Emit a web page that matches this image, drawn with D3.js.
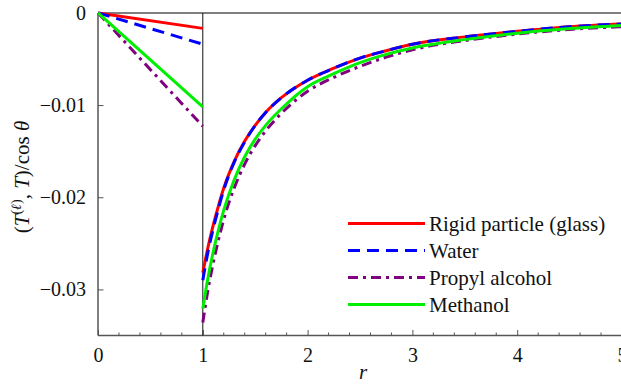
<!DOCTYPE html>
<html>
<head>
<meta charset="utf-8">
<script src="https://cdn.jsdelivr.net/npm/d3@7"></script>
<style>
  html, body { margin: 0; padding: 0; background: #fff; }
  svg { display: block; }
  svg text { font-family: "Liberation Serif", "Times New Roman", "DejaVu Serif", serif !important; fill: #111; }
</style>
</head>
<body>
<svg id="chart" width="621" height="385"></svg>
<script>
// Inner region (0 <= r <= 1): fluid / particle interior
const rInner = [0, 1];
const glassInner = [0, -0.00168];
const waterInner = [0, -0.0034];
const propylInner = [0, -0.0123];
const methanolInner = [0, -0.0102];

// Outer region (1 <= r <= 5)
const rOuter = [1, 1.05, 1.1, 1.15, 1.2, 1.3, 1.4, 1.5, 1.6, 1.75, 2, 2.25, 2.5, 2.75, 3, 3.5, 4, 4.5, 5];
const glassOuter = [-0.0282, -0.0254, -0.0230, -0.0209, -0.0190, -0.0161, -0.0139, -0.0122, -0.0108, -0.0092, -0.0073, -0.0060, -0.0049, -0.0041, -0.0034, -0.0026, -0.0020, -0.0015, -0.0012];
const waterOuter = [-0.0290, -0.0259, -0.0234, -0.0212, -0.0192, -0.0162, -0.0140, -0.0122, -0.0108, -0.0092, -0.0073, -0.0060, -0.0049, -0.0041, -0.0034, -0.0026, -0.0020, -0.0015, -0.0012];
const propylOuter = [-0.0336, -0.0300, -0.0271, -0.0246, -0.0224, -0.0190, -0.0164, -0.0144, -0.0128, -0.0109, -0.0085, -0.0070, -0.0058, -0.0048, -0.0040, -0.0030, -0.0023, -0.0018, -0.0015];
const methanolOuter = [-0.0321, -0.0287, -0.0259, -0.0235, -0.0214, -0.0181, -0.0156, -0.0137, -0.0122, -0.0104, -0.0080, -0.0066, -0.0054, -0.0045, -0.0038, -0.0029, -0.0022, -0.0017, -0.00135];

const seriesNames = ["Rigid particle (glass)", "Water", "Propyl alcohol", "Methanol"];
const xTicks = [0, 1, 2, 3, 4, 5];
const yTicks = [0, -0.01, -0.02, -0.03];

const series = [
  { name: seriesNames[0], inner: glassInner, outer: glassOuter, color: "#ff0000", dash: null },
  { name: seriesNames[1], inner: waterInner, outer: waterOuter, color: "#0000ff", dash: "12,7" },
  { name: seriesNames[2], inner: propylInner, outer: propylOuter, color: "#800080", dash: "10,5,3,5" },
  { name: seriesNames[3], inner: methanolInner, outer: methanolOuter, color: "#00ee00", dash: null }
];

const serif = "'Liberation Serif', 'Times New Roman', serif";
const svg = d3.select("#chart");
const x = d3.scaleLinear().domain([0, 5]).range([98, 622]);
const y = d3.scaleLinear().domain([-0.035, 0]).range([335.5, 12.9]);

const axisColor = "#555";

// x axis with inward ticks (majors at integers, minors every 0.2)
const xMinor = d3.range(0, 5.001, 0.2).filter(v => Math.abs(v - Math.round(v)) > 1e-6);
const gx = svg.append("g").attr("transform", `translate(0,${y(-0.035)})`);
gx.append("line").attr("x1", x(0)).attr("x2", 621).attr("stroke", axisColor).attr("stroke-width", 1.5);
gx.selectAll("line.minor").data(xMinor).join("line").attr("class", "minor")
  .attr("x1", d => x(d)).attr("x2", d => x(d)).attr("y1", 0).attr("y2", -3)
  .attr("stroke", axisColor).attr("stroke-width", 1);
const xAxis = d3.axisBottom(x).tickValues(xTicks).tickSizeInner(-5.5).tickSizeOuter(0).tickPadding(12)
  .tickFormat(d3.format("d"));
gx.append("g").call(xAxis).call(g => {
  g.attr("font-family", serif).attr("font-size", 20);
  g.select(".domain").remove();
  g.selectAll(".tick line").attr("stroke", axisColor).attr("stroke-width", 1);
  g.selectAll(".tick text").style("font-family", serif).style("font-size", "20px").attr("fill", "#111");
});

// y axis with inward ticks
const gy = svg.append("g").attr("transform", `translate(${x(0)},0)`);
gy.append("line").attr("y1", y(0)).attr("y2", y(-0.035)).attr("stroke", axisColor).attr("stroke-width", 1.5);
const yFmt = d => d === 0 ? "0" : "\u2212" + d3.format(".2f")(-d);
const yAxis = d3.axisLeft(y).tickValues(yTicks).tickSizeInner(-5.5).tickSizeOuter(0).tickPadding(12).tickFormat(yFmt);
gy.append("g").call(yAxis).call(g => {
  g.attr("font-family", serif).attr("font-size", 20);
  g.select(".domain").remove();
  g.selectAll(".tick line").attr("stroke", axisColor).attr("stroke-width", 1);
  g.selectAll(".tick text").style("font-family", serif).style("font-size", "20px").attr("fill", "#111");
});

// zero line along the top and interface line at r = 1
svg.append("line").attr("x1", x(0)).attr("x2", 621).attr("y1", y(0)).attr("y2", y(0))
  .attr("stroke", axisColor).attr("stroke-width", 1.5);
svg.append("line").attr("x1", x(1)).attr("x2", x(1)).attr("y1", y(0)).attr("y2", y(-0.035))
  .attr("stroke", "#111").attr("stroke-width", 1);

// curves
const line = d3.line().x(d => x(d[0])).y(d => y(d[1])).curve(d3.curveMonotoneX);
const plot = svg.append("g");
series.forEach(s => {
  const innerPts = rInner.map((r, i) => [r, s.inner[i]]);
  const outerPts = rOuter.map((r, i) => [r, s.outer[i]]);
  [innerPts, outerPts].forEach(pts => {
    plot.append("path").datum(pts).attr("d", line)
      .attr("fill", "none").attr("stroke", s.color).attr("stroke-width", 3)
      .attr("stroke-dasharray", s.dash);
  });
});

// legend
const lg = svg.append("g");
series.forEach((s, i) => {
  const yy = 223.5 + i * 27;
  lg.append("line").attr("x1", 348).attr("x2", 425).attr("y1", yy).attr("y2", yy)
    .attr("stroke", s.color).attr("stroke-width", 3).attr("stroke-dasharray", s.dash);
  lg.append("text").attr("x", 429).attr("y", yy + 7).style("font-family", serif).style("font-size", "21px").text(s.name);
});

// axis titles
svg.append("text").attr("x", 363).attr("y", 379).attr("text-anchor", "middle")
  .style("font-family", serif).style("font-size", "21px").attr("font-style", "italic").text("r");

const yl = svg.append("text").attr("transform", "translate(29,177) rotate(-90)")
  .attr("text-anchor", "middle").style("font-family", serif).style("font-size", "21px");
yl.append("tspan").text("(");
yl.append("tspan").attr("font-style", "italic").text("T");
yl.append("tspan").style("font-size", "14px").attr("dy", -8).text("(");
yl.append("tspan").style("font-size", "14px").attr("font-style", "italic").text("\u2113");
yl.append("tspan").style("font-size", "14px").text(")");
yl.append("tspan").attr("dy", 8).text(", ");
yl.append("tspan").attr("font-style", "italic").text("T");
yl.append("tspan").text(")/cos ");
yl.append("tspan").attr("font-style", "italic").text("\u03b8");
</script>
</body>
</html>
